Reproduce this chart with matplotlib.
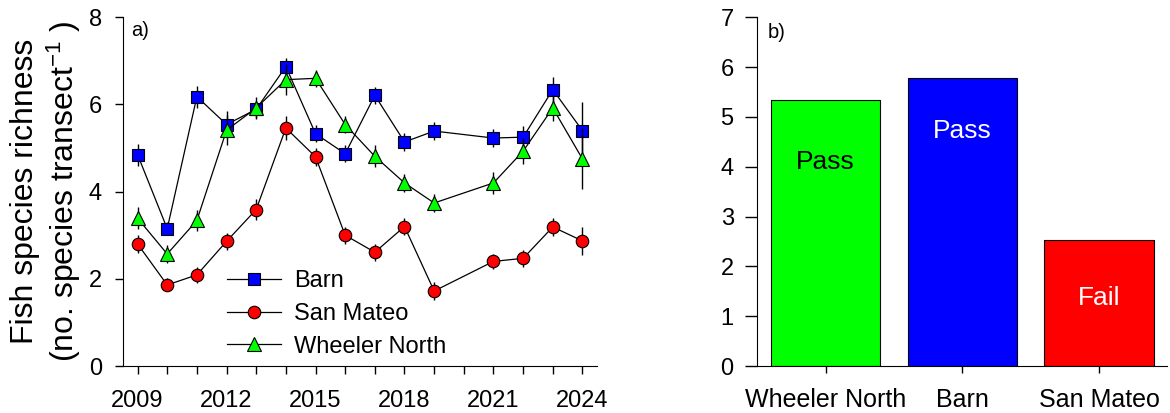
import matplotlib
matplotlib.use("Agg")
import matplotlib.pyplot as plt
from matplotlib.ticker import MultipleLocator, FixedLocator

plt.rcParams['font.family'] = ['Liberation Sans', 'DejaVu Sans']
plt.rcParams['mathtext.default'] = 'regular'

years = [2009, 2010, 2011, 2012, 2013, 2014, 2015, 2016, 2017, 2018, 2019, 2021, 2022, 2023, 2024]
barn = [4.85, 3.15, 6.18, 5.54, 5.89, 6.87, 5.33, 4.87, 6.21, 5.14, 5.39, 5.23, 5.25, 6.34, 5.40]
barn_err = [0.25, 0.15, 0.25, 0.3, 0.2, 0.2, 0.2, 0.2, 0.2, 0.2, 0.2, 0.2, 0.25, 0.3, 0.65]
san_mateo = [2.80, 1.86, 2.09, 2.86, 3.59, 5.46, 4.80, 3.00, 2.61, 3.20, 1.72, 2.40, 2.47, 3.19, 2.87]
san_mateo_err = [0.2, 0.15, 0.18, 0.2, 0.25, 0.28, 0.2, 0.2, 0.2, 0.2, 0.2, 0.18, 0.2, 0.2, 0.33]
wheeler = [3.39, 2.57, 3.34, 5.41, 5.92, 6.57, 6.60, 5.54, 4.81, 4.20, 3.74, 4.20, 4.93, 5.92, 4.75]
wheeler_err = [0.25, 0.2, 0.25, 0.35, 0.25, 0.35, 0.2, 0.2, 0.25, 0.2, 0.2, 0.25, 0.3, 0.3, 0.7]

bar_sites = ['Wheeler North', 'Barn', 'San Mateo']
bar_values = [5.33, 5.79, 2.53]
bar_labels = ['Pass', 'Pass', 'Fail']
bar_colors = ['#00ff00', '#0000ff', '#ff0000']
bar_text_colors = ['black', 'white', 'white']
bar_text_y = [4.1, 4.72, 1.36]

fig = plt.figure(figsize=(11.7, 4.13), dpi=100)
ax1 = fig.add_axes([0.1049, 0.1138, 0.4056, 0.8443])
ax2 = fig.add_axes([0.6473, 0.1138, 0.3504, 0.8443])

fs = 17
series = [
    (barn, barn_err, 's', '#0000ff', 'Barn', 8.5),
    (san_mateo, san_mateo_err, 'o', '#ff0000', 'San Mateo', 9),
    (wheeler, wheeler_err, '^', '#00ff00', 'Wheeler North', 10),
]
for i, (vals, errs, mk, col, lab, ms) in enumerate(series):
    ax1.errorbar(years, vals, yerr=errs, fmt='none', ecolor='black', elinewidth=1.0,
                 capsize=0, zorder=2 + i)
    ax1.plot(years, vals, color='black', lw=0.9, marker=mk, markersize=ms,
             markerfacecolor=col, markeredgecolor='black', markeredgewidth=0.8,
             label=lab, zorder=3 + i)

ax1.set_xlim(2008.5, 2024.5)
ax1.set_ylim(0, 8)
ax1.xaxis.set_major_locator(FixedLocator([2009, 2012, 2015, 2018, 2021, 2024]))
ax1.xaxis.set_minor_locator(MultipleLocator(1))
ax1.yaxis.set_major_locator(MultipleLocator(2))
for sp in ['top', 'right']:
    ax1.spines[sp].set_visible(False)
ax1.tick_params(axis='both', which='both', direction='out', length=6, width=1, labelsize=fs)
ax1.tick_params(axis='x', which='major', pad=11)
ax1.tick_params(axis='y', pad=9)
ax1.set_ylabel('Fish species richness\n(no. species transect$^{-1}$ )', fontsize=23, labelpad=4,
               linespacing=1.15)
ax1.text(0.017, 0.99, 'a)', transform=ax1.transAxes, fontsize=14.5, va='top', ha='left')
ax1.legend(loc='center left', bbox_to_anchor=(0.22, 0.149), frameon=False, fontsize=fs,
           handlelength=2.3, handletextpad=0.55, labelspacing=0.45, borderpad=0, borderaxespad=0)

x = list(range(len(bar_sites)))
ax2.bar(x, bar_values, width=0.8, color=bar_colors, edgecolor='black', linewidth=0.8)
for xi, lab, tc, ty in zip(x, bar_labels, bar_text_colors, bar_text_y):
    ax2.text(xi, ty, lab, ha='center', va='center', color=tc, fontsize=19)
ax2.set_xlim(-0.5, 2.5)
ax2.set_ylim(0, 7)
ax2.set_xticks(x)
ax2.set_xticklabels(bar_sites)
ax2.yaxis.set_major_locator(MultipleLocator(1))
for sp in ['top', 'right']:
    ax2.spines[sp].set_visible(False)
ax2.tick_params(axis='y', direction='out', length=9, width=1, labelsize=fs, pad=8)
ax2.tick_params(axis='x', direction='out', length=5, width=1, labelsize=18, pad=11)
ax2.text(0.025, 0.985, 'b)', transform=ax2.transAxes, fontsize=14.5, va='top', ha='left')

fig.savefig('out.png', dpi=100)
